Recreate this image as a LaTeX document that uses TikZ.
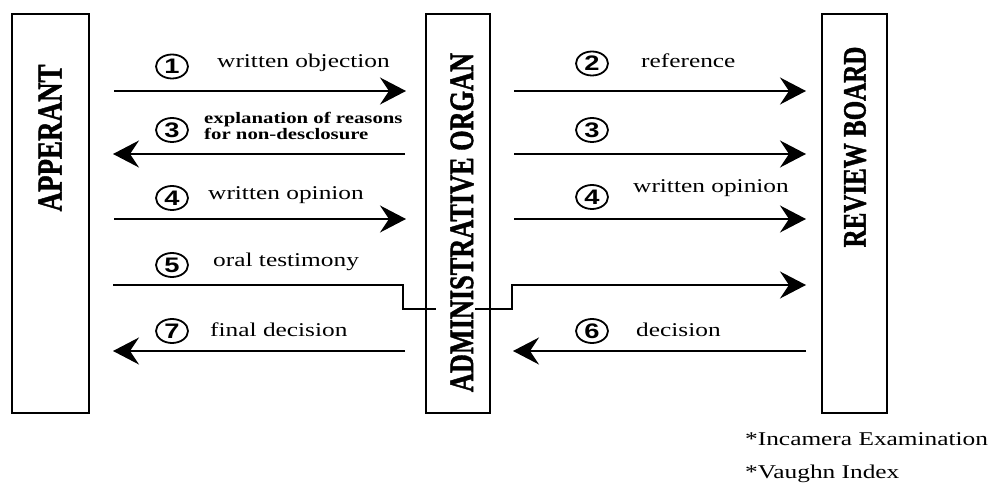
\documentclass[tikz,border=0pt]{standalone}
\usepackage{fontspec}
\setmainfont{Liberation Serif}
\newfontfamily\digitfont{Liberation Sans}
\newfontfamily\boxfont[FakeBold=1.5]{Liberation Serif Bold}
\usetikzlibrary{arrows.meta,shapes.geometric}
\newcommand{\hs}[1]{\scalebox{1.3}[1]{#1}}
\newcommand{\vs}[1]{\scalebox{1}[1.3]{#1}}
\begin{document}
\begin{tikzpicture}[x=1pt,y=-1pt,
  box/.style={draw,line width=1.8pt,rectangle,inner sep=0pt,minimum height=399pt},
  boxlbl/.style={rotate=90,inner sep=0pt},
  num/.style={draw,ellipse,line width=1.8pt,inner sep=0pt,minimum width=32pt,minimum height=24pt,
    font=\digitfont\bfseries\fontsize{21}{21}\selectfont},
  lbl/.style={anchor=base west,inner sep=0pt,font=\fontsize{19.5}{22}\selectfont},
  slbl/.style={anchor=base west,inner sep=0pt,font=\bfseries\fontsize{16}{16}\selectfont},
  ln/.style={line width=1.8pt},
  arr/.style={line width=1.8pt,-{Stealth[length=26pt,width=27pt,inset=9pt]}}]
\useasboundingbox (0,0) rectangle (989,489);

% boxes
\node[box,minimum width=77pt] (app) at (50.5,213.5) {};
\node[box,minimum width=64pt] (adm) at (458,213.5) {};
\node[box,minimum width=65pt] (rev) at (854.5,213.5) {};
\node[boxlbl,font=\boxfont\fontsize{27}{27}\selectfont] (appl) at (50,138) {\vs{APPERANT}};
\node[boxlbl,font=\boxfont\fontsize{26.3}{27}\selectfont] (adml) at (462,222.5) {\vs{ADMINISTRATIVE ORGAN}};
\node[boxlbl,font=\boxfont\fontsize{25}{27}\selectfont] (revl) at (855,147) {\vs{REVIEW BOARD}};

% coordinates
\coordinate (a1s) at (114,91);  \coordinate (a1e) at (406,91);
\coordinate (b1s) at (514,91);  \coordinate (b1e) at (806,91);
\coordinate (a2s) at (405,154); \coordinate (a2e) at (113,154);
\coordinate (b2s) at (514,154); \coordinate (b2e) at (806,154);
\coordinate (a3s) at (114,219); \coordinate (a3e) at (406,219);
\coordinate (b3s) at (514,219); \coordinate (b3e) at (806,219);
\coordinate (a4s) at (113,285); \coordinate (a4k) at (403,285); \coordinate (a4e) at (436,309);
\coordinate (b4s) at (475,309); \coordinate (b4k) at (512,309); \coordinate (b4e) at (806,285);
\coordinate (a5s) at (405,351); \coordinate (a5e) at (113,351);
\coordinate (b5s) at (806,351); \coordinate (b5e) at (513,351);

% arrows
\draw[arr] (a1s) -- (a1e);
\draw[arr] (b1s) -- (b1e);
\draw[arr] (a2s) -- (a2e);
\draw[arr] (b2s) -- (b2e);
\draw[arr] (a3s) -- (a3e);
\draw[arr] (b3s) -- (b3e);
\draw[ln] (a4s) -- (a4k) |- (a4e);
\draw[arr] (b4s) -| (b4k) |- (b4e);
\draw[arr] (a5s) -- (a5e);
\draw[arr] (b5s) -- (b5e);

% numbers
\node[num] (n1) at (172,66.5) {\hs{1}};
\node[num] (n2) at (592,63.5) {\hs{2}};
\node[num] (n3a) at (172,130) {\hs{3}};
\node[num] (n3b) at (592,130) {\hs{3}};
\node[num] (n4a) at (172,198) {\hs{4}};
\node[num] (n4b) at (592,197) {\hs{4}};
\node[num] (n5) at (172,265) {\hs{5}};
\node[num] (n7) at (172,331) {\hs{7}};
\node[num] (n6) at (592,331) {\hs{6}};

% labels
\node[lbl] (t1) at (217,68) {\hs{written objection}};
\node[lbl] (t2) at (641,68) {\hs{reference}};
\node[slbl] (t3a) at (204,124) {\hs{explanation of reasons}};
\node[slbl] (t3b) at (204,140) {\hs{for non-desclosure}};
\node[lbl] (t4a) at (208,200) {\hs{written opinion}};
\node[lbl] (t4b) at (633,193) {\hs{written opinion}};
\node[lbl] (t5) at (213,267) {\hs{oral testimony}};
\node[lbl] (t7) at (210,337) {\hs{final decision}};
\node[lbl] (t6) at (636,337) {\hs{decision}};
\node[lbl] (f1) at (745,445) {\hs{*Incamera Examination}};
\node[lbl] (f2) at (745,478) {\hs{*Vaughn Index}};
\end{tikzpicture}
\end{document}
